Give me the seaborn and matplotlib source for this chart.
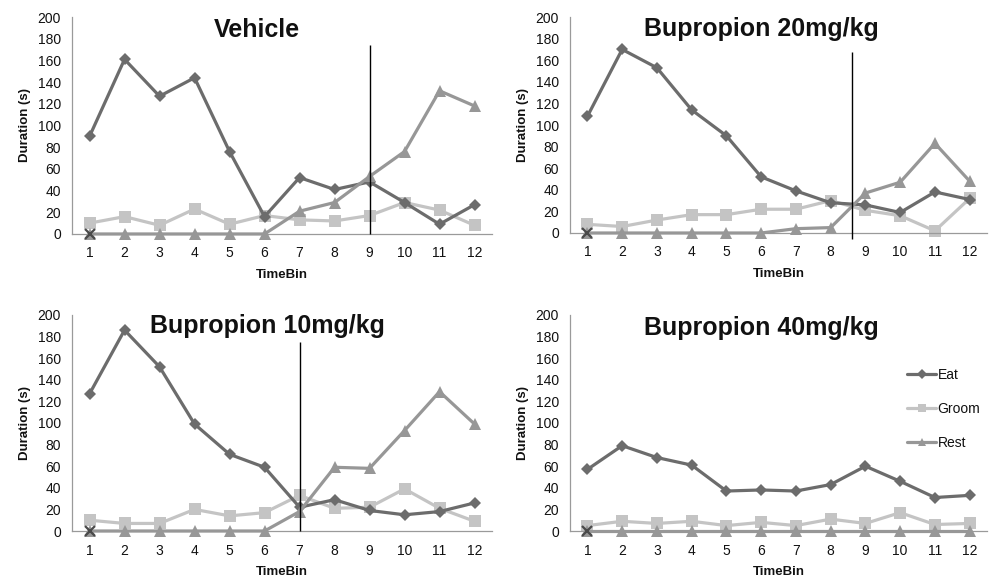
import matplotlib
matplotlib.use("Agg")
import matplotlib.pyplot as plt
from matplotlib.lines import Line2D
import numpy as np
import pandas as pd
import seaborn as sns

sns.set_theme(style="white")
plt.rcParams["font.family"] = ["Liberation Sans", "DejaVu Sans"]
plt.rcParams["text.color"] = "#111111"
plt.rcParams["axes.labelcolor"] = "#111111"

# ---- data -------------------------------------------------------------
bins = list(range(1, 13))
bin_labels = [str(b) for b in bins]
behaviours = ["Eat", "Groom", "Rest"]
panel_titles = ["Vehicle", "Bupropion 20mg/kg", "Bupropion 10mg/kg", "Bupropion 40mg/kg"]

vehicle_eat = [90, 161, 127, 144, 76, 16, 52, 41, 48, 29, 9, 27]
vehicle_groom = [10, 16, 8, 23, 9, 17, 13, 12, 17, 29, 22, 8]
vehicle_rest = [0, 0, 0, 0, 0, 0, 21, 29, 53, 76, 132, 118]

bup20_eat = [108, 170, 153, 114, 90, 52, 39, 28, 26, 19, 38, 31]
bup20_groom = [8, 6, 12, 17, 17, 22, 22, 30, 21, 16, 2, 32]
bup20_rest = [0, 0, 0, 0, 0, 0, 4, 5, 37, 47, 83, 48]

bup10_eat = [127, 186, 152, 99, 71, 59, 22, 29, 19, 15, 18, 26]
bup10_groom = [10, 7, 7, 20, 14, 17, 33, 21, 22, 39, 21, 9]
bup10_rest = [0, 0, 0, 0, 0, 0, 18, 59, 58, 93, 129, 99]

bup40_eat = [57, 79, 68, 61, 37, 38, 37, 43, 60, 46, 31, 33]
bup40_groom = [5, 9, 7, 9, 5, 8, 5, 11, 7, 17, 6, 7]
bup40_rest = [0, 0, 0, 0, 0, 0, 0, 0, 0, 0, 0, 0]

# stray single-point series sitting at bin 1
extra_bin = [1]
extra_value = [0]

# vertical reference line per panel: (bin position, bottom, top); None = no line
marker_bin = [9, 8.6, 7, None]
marker_bottom = [0, -6, 0, None]
marker_top = [174, 168, 175, None]

panels = [
    (vehicle_eat, vehicle_groom, vehicle_rest),
    (bup20_eat, bup20_groom, bup20_rest),
    (bup10_eat, bup10_groom, bup10_rest),
    (bup40_eat, bup40_groom, bup40_rest),
]

# ---- styling ----------------------------------------------------------
colors = {"Eat": "#6c6c6c", "Groom": "#c4c4c4", "Rest": "#979797"}
markers = {"Eat": "D", "Groom": "s", "Rest": "^"}
msizes = {"Eat": 6.5, "Groom": 8.5, "Rest": 8.5}
axis_grey = "#9a9a9a"

fig = plt.figure(figsize=(9.91, 5.79), dpi=100)
boxes = [
    [0.0727, 0.5959, 0.4238, 0.3747],
    [0.5752, 0.5976, 0.4208, 0.3730],
    [0.0727, 0.0829, 0.4238, 0.3731],
    [0.5752, 0.0829, 0.4208, 0.3731],
]
title_x = [0.44, 0.46, 0.465, 0.46]
title_y = [0.94, 0.945, 0.95, 0.94]

for i, (box, series) in enumerate(zip(boxes, panels)):
    ax = fig.add_axes(box)
    df = pd.DataFrame({"TimeBin": bins * 3,
                       "Duration": series[0] + series[1] + series[2],
                       "Behaviour": np.repeat(behaviours, len(bins))})
    for beh in behaviours:
        sub = df[df["Behaviour"] == beh]
        z = {"Eat": 3, "Groom": 2, "Rest": 4}[beh]
        sns.lineplot(data=sub, x="TimeBin", y="Duration", ax=ax,
                     color=colors[beh], marker=markers[beh],
                     markersize=msizes[beh], markeredgewidth=0,
                     linewidth=2.3, legend=False, zorder=z, clip_on=False)
    ax.plot(extra_bin, extra_value, marker="x", color="#4a4a4a",
            markersize=7, markeredgewidth=1.6, linestyle="none",
            zorder=6, clip_on=False)

    if marker_bin[i] is not None:
        ax.vlines(marker_bin[i], marker_bottom[i], marker_top[i],
                  color="black", linewidth=1.0, zorder=7, clip_on=False)

    ax.set_xlim(0.5, 12.5)
    ax.set_ylim(0, 200)
    ax.set_yticks(np.arange(0, 201, 20))
    ax.set_xticks(bins)
    ax.set_xticklabels(bin_labels)
    ax.set_xticks(np.arange(0.5, 12.6, 1), minor=True)
    ax.tick_params(axis="x", which="major", length=0, pad=9, labelsize=10,
                   colors="#111111")
    ax.tick_params(axis="x", which="minor", length=4, width=0.8,
                   color=axis_grey, direction="out")
    ax.tick_params(axis="y", length=4, width=0.8, color=axis_grey,
                   direction="out", pad=4, labelsize=10, labelcolor="#111111")
    for side in ["top", "right"]:
        ax.spines[side].set_visible(False)
    for side in ["left", "bottom"]:
        ax.spines[side].set_color(axis_grey)
        ax.spines[side].set_linewidth(0.9)

    ax.set_xlabel("TimeBin", fontsize=9.5, fontweight="bold", labelpad=6)
    ax.set_ylabel("Duration (s)", fontsize=9.5, fontweight="bold", labelpad=5)
    ax.text(title_x[i], title_y[i], panel_titles[i], transform=ax.transAxes,
            ha="center", va="center", fontsize=18, fontweight="bold",
            color="#111111", zorder=8)

    if i == 3:
        handles = [Line2D([0], [0], color=colors[b], marker=markers[b],
                          markersize=msizes[b] * 0.75, markeredgewidth=0,
                          linewidth=2.3) for b in behaviours]
        ax.legend(handles, behaviours, loc="upper left",
                  bbox_to_anchor=(0.795, 0.78), frameon=False, fontsize=10,
                  handlelength=2.1, handletextpad=0.1, labelspacing=1.45,
                  borderaxespad=0)

fig.savefig("out.png", dpi=100)
